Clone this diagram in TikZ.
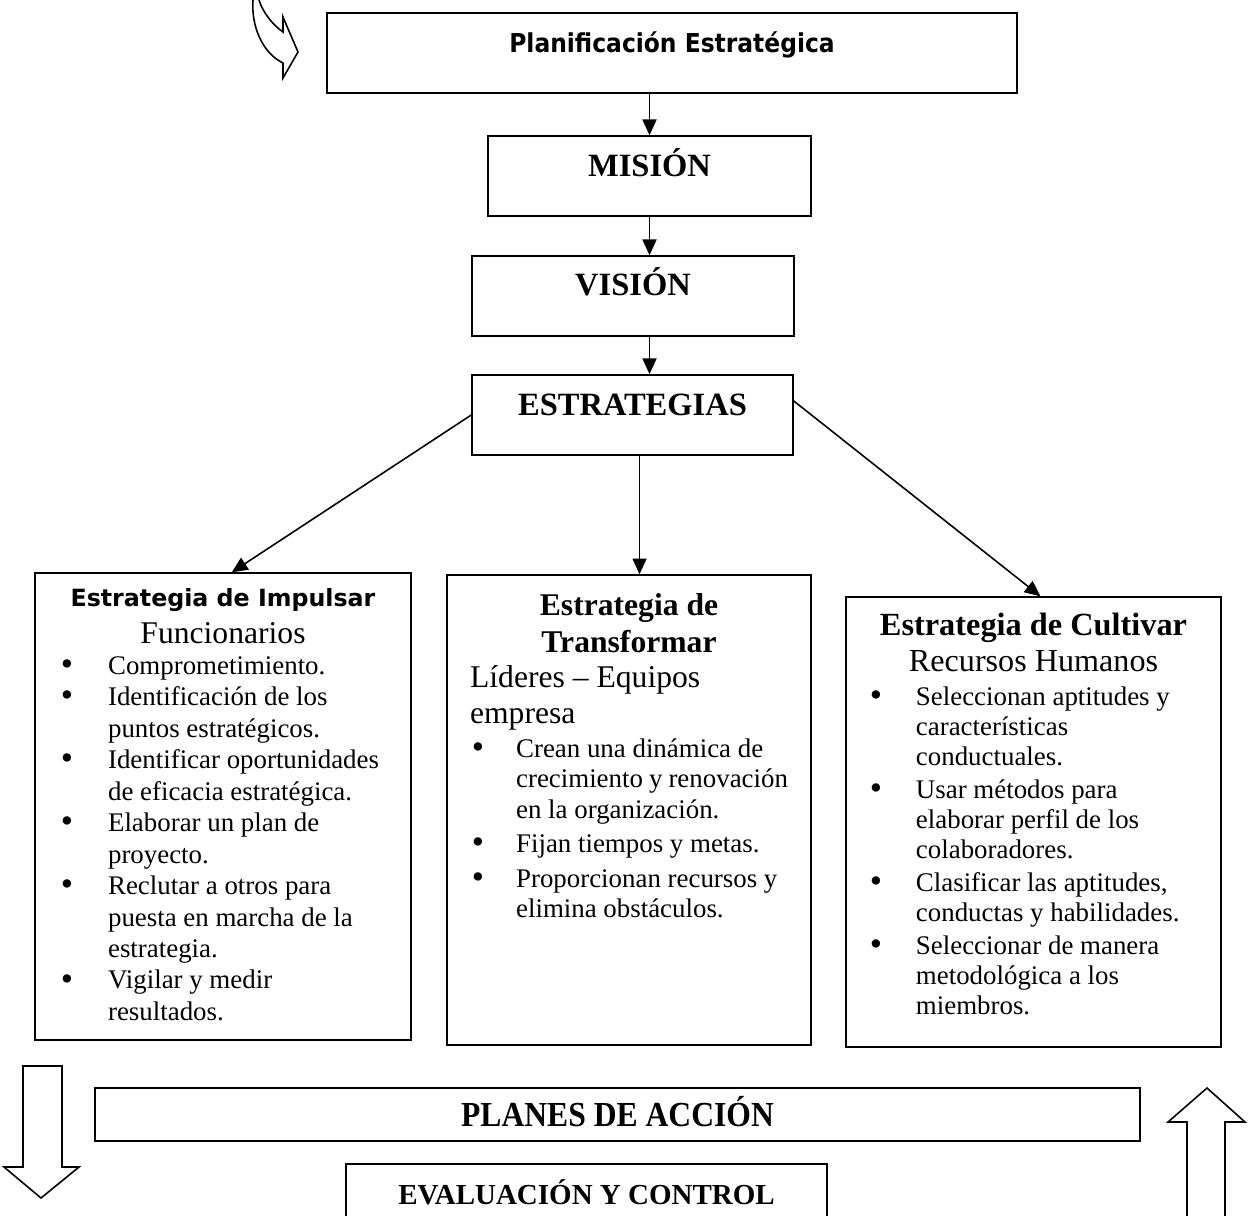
\documentclass[tikz,border=0pt]{standalone}
\usepackage{fontspec}
\setmainfont{Liberation Serif}
\newfontfamily\versans{DejaVu Sans}
\usetikzlibrary{arrows.meta,positioning}
\newcommand{\px}{0.569pt}
\newlength\bulind \newlength\itemgap
\newcommand{\bul}{\par\vspace{\itemgap}\hangindent=\bulind\hangafter=1\noindent
 \makebox[\bulind][l]{\hspace{1pt}\smash{\raisebox{-.6pt}{\scalebox{1.3}{\textbullet}}}}}
\tikzset{>={Triangle[length=9pt,width=8pt]},
 caja/.style={draw,line width=.9pt,inner sep=0pt,align=center},
 flecha/.style={->,line width=.9pt},
 bloque/.style={draw,line width=.9pt,line join=miter}}

\begin{document}
\begin{tikzpicture}[x=.02cm,y=-.02cm]
\useasboundingbox (0,0) rectangle (1250,1215);
% Cadena superior de cajas.
\node[caja,minimum width=690*\px,text height=22.2pt,text depth=23.3pt] (plan) at (672,53)
 {\scalebox{.9}[1]{\versans\bfseries\fontsize{14.8}{17}\selectfont Planificación Estratégica}};
\node[caja,minimum width=323*\px,text height=23.3pt,text depth=22.2pt,
 font=\bfseries\fontsize{18.5}{21}\selectfont] (mis) at (649.5,176) {MISIÓN};
\node[caja,minimum width=322*\px,text height=22.2pt,text depth=23.3pt,
 font=\bfseries\fontsize{18.5}{21}\selectfont] (vis) at (633,296) {VISIÓN};
\node[caja,minimum width=321*\px,text height=22.8pt,text depth=22.8pt,
 font=\bfseries\fontsize{18.5}{21}\selectfont] (estr) at (632.5,415) {ESTRATEGIAS};
% Las tres estrategias.
\node[caja,inner xsep=13.7pt] (imp) at (223,806.5) {\parbox[c][265.7pt][t]{186.6pt}{%
 \setlength\bulind{27.9pt}\setlength\itemgap{0pt}%
 \centering\rule{0pt}{18.8pt}{\versans\bfseries\fontsize{13.5}{16}\selectfont Estrategia de Impulsar}\par
 \fontsize{18}{21}\selectfont Funcionarios\par
 \raggedright\fontsize{15.3}{17.9}\selectfont
 \bul Comprometimiento.
 \bul Identificación de los\newline puntos estratégicos.
 \bul Identificar oportunidades\newline de eficacia estratégica.
 \bul Elaborar un plan de\newline proyecto.
 \bul Reclutar a otros para\newline puesta en marcha de la\newline estrategia.
 \bul Vigilar y medir\newline resultados.\par}};
\node[caja,inner xsep=13.1pt] (tra) at (629,810) {\parbox[c][267.4pt][t]{180.9pt}{%
 \setlength\bulind{26.2pt}\setlength\itemgap{2.3pt}%
 \centering\bfseries\fontsize{18}{21}\selectfont\rule{0pt}{22.8pt}Estrategia de\\Transformar\par
 \raggedright\mdseries\fontsize{18}{20.2}\selectfont Líderes -- Equipos\\empresa\par
 \fontsize{15.3}{17.3}\selectfont
 \bul Crean una dinámica de\newline crecimiento y renovación\newline en la organización.
 \bul Fijan tiempos y metas.
 \bul Proporcionan recursos y\newline elimina obstáculos.\par}};
\node[caja,inner xsep=12.5pt] (cul) at (1033.5,822) {\parbox[c][256pt][t]{188.4pt}{%
 \setlength\bulind{27.3pt}\setlength\itemgap{1.7pt}%
 \centering\rule{0pt}{21.6pt}{\bfseries\fontsize{18.4}{21}\selectfont Estrategia de Cultivar}\par
 \fontsize{18.3}{21}\selectfont Recursos Humanos\par
 \raggedright\fontsize{15.3}{17.1}\selectfont
 \bul Seleccionan aptitudes y\newline características\newline conductuales.
 \bul Usar métodos para\newline elaborar perfil de los\newline colaboradores.
 \bul Clasificar las aptitudes,\newline conductas y habilidades.
 \bul Seleccionar de manera\newline metodológica a los\newline miembros.\par}};
% Cajas inferiores.
\node[caja,minimum width=1045*\px,text height=21.6pt,text depth=8.5pt] (planes) at (617.5,1114.5)
 {\scalebox{.9}[1]{\bfseries\fontsize{20}{22}\selectfont PLANES DE ACCIÓN}};
\node[caja,minimum width=481*\px,text height=23.3pt,text depth=9.7pt,
 font=\bfseries\fontsize{16.5}{19}\selectfont] (eval) at (586.5,1193) {EVALUACIÓN Y CONTROL};
% Conectores.
\draw[flecha] (plan.south -| mis.north)--(mis.north);
\draw[flecha] (mis.south)--(mis.south |- vis.north);
\draw[flecha] (vis.south -| mis.south)--(estr.north -| mis.south);
\draw[flecha] ([xshift=4pt]estr.south)--([xshift=4pt]estr.south |- tra.north);
\draw[flecha] (estr.west)--([xshift=5pt]imp.north);
\draw[flecha] ([yshift=8pt]estr.east)--([xshift=4pt]cul.north);
% Flechas de bloque.
\draw[bloque] (253,0) .. controls (251,25) and (262,53) .. (283,63)--(283,78)--(298,52)--(283,17)--(283,32)
 .. controls (273,25) and (263,13) .. (259,0);
\draw[bloque] (23,1066)--(62,1066)--(62,1167)--(79,1167)--(41,1198)--(4,1167)--(23,1167)--cycle;
\draw[bloque] (1187,1222)--(1187,1122)--(1168,1122)--(1207,1088)--(1245,1122)--(1225,1122)--(1225,1222);
\end{tikzpicture}
\end{document}
